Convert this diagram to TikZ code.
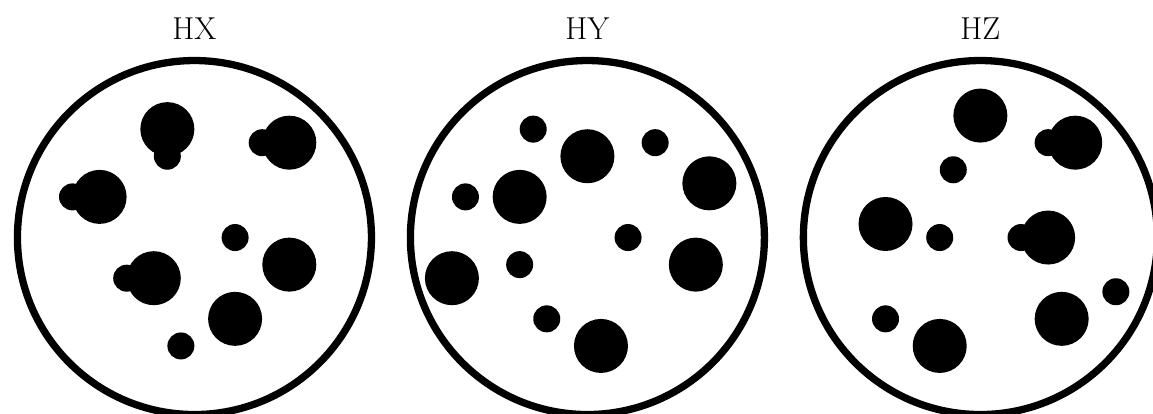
\documentclass[tikz,border=0pt]{standalone}
\tikzset{
  dish/.style={circle,draw=black,line width=7.3pt,minimum size=354pt,inner sep=0pt},
  bigdot/.style={fill=black,radius=27pt},
  smalldot/.style={fill=black,radius=13.5pt},
  caption/.style={anchor=base,font=\fontsize{31.7}{38}\selectfont},
}
\begin{document}
\begin{tikzpicture}[x=13.55pt,y=-13.55pt]
  \useasboundingbox (-14.35,-17.53) rectangle (70.74,12.95);
  % HX
  \node[dish] (dx) at (0,0) {};
  \node[caption] (hx) at (0,-14.63) {HX};
  \fill[bigdot] (-2,-8) circle; \fill[smalldot] (-2,-6) circle;
  \fill[bigdot] (7,-7) circle;  \fill[smalldot] (5,-7) circle;
  \fill[bigdot] (-7,-3) circle; \fill[smalldot] (-9,-3) circle;
  \fill[smalldot] (3,0) circle;
  \fill[bigdot] (7,2) circle;
  \fill[bigdot] (-3,3) circle;  \fill[smalldot] (-5,3) circle;
  \fill[bigdot] (3,6) circle;
  \fill[smalldot] (-1,8) circle;
  % HY
  \begin{scope}[xshift=29*13.55pt]
  \node[dish] (dy) at (0,0) {};
  \node[caption] (hy) at (0,-14.63) {HY};
  \fill[smalldot] (-4,-8) circle;
  \fill[bigdot] (0,-6) circle;
  \fill[smalldot] (5,-7) circle;
  \fill[bigdot] (9,-4) circle;
  \fill[smalldot] (-9,-3) circle;
  \fill[bigdot] (-5,-3) circle;
  \fill[smalldot] (3,0) circle;
  \fill[bigdot] (8,2) circle;
  \fill[bigdot] (-10,3) circle;
  \fill[smalldot] (-5,2) circle;
  \fill[smalldot] (-3,6) circle;
  \fill[bigdot] (1,8) circle;
  \end{scope}
  % HZ
  \begin{scope}[xshift=58*13.55pt]
  \node[dish] (dz) at (0,0) {};
  \node[caption] (hz) at (0,-14.63) {HZ};
  \fill[bigdot] (0,-9) circle;
  \fill[bigdot] (7,-7) circle;  \fill[smalldot] (5,-7) circle;
  \fill[smalldot] (-2,-5) circle;
  \fill[bigdot] (-7,-1) circle;
  \fill[smalldot] (-3,0) circle;
  \fill[bigdot] (5,0) circle;   \fill[smalldot] (3,0) circle;
  \fill[smalldot] (10,4) circle;
  \fill[bigdot] (6,6) circle;
  \fill[smalldot] (-7,6) circle;
  \fill[bigdot] (-3,8) circle;
  \end{scope}
\end{tikzpicture}
\end{document}
